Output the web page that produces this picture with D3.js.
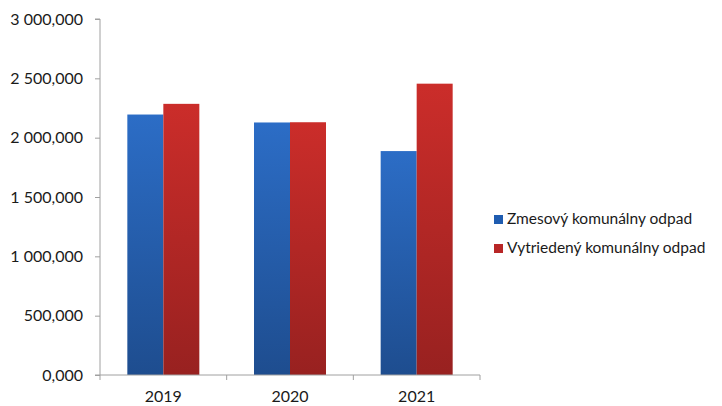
<!DOCTYPE html>
<html><head><meta charset="utf-8">
<script src="https://cdn.jsdelivr.net/npm/d3@7"></script>
<style>body{margin:0;background:#fff}svg{display:block}text{font-family:Lato,"Open Sans",sans-serif;fill:#1a1a1a}</style>
</head><body>
<svg id="c" width="722" height="406"></svg>
<script>
const categories = ["2019","2020","2021"];
const seriesNames = ["Zmesový komunálny odpad","Vytriedený komunálny odpad"];
const zmesovy = [2195, 2128, 1887];
const vytriedeny = [2285, 2130, 2455];
const yTicks = [0,500,1000,1500,2000,2500,3000];

const svg = d3.select("#c");
const mLeft = 100, mRight = 480, mTop = 19, mBottom = 375;
const x = d3.scaleBand().domain(categories).range([mLeft,mRight]).paddingInner(0).paddingOuter(0);
const y = d3.scaleLinear().domain([0,3000]).range([mBottom,mTop]);
const inner = d3.scaleBand().domain([0,1]).range([0, 72]);

const defs = svg.append("defs");
const grads = [["gb","#2c6dc6","#1e4d8f"],["gr","#cb2d2a","#982120"]];
grads.forEach(([id,c1,c2])=>{
  const g = defs.append("linearGradient").attr("id",id).attr("x1",0).attr("y1",0).attr("x2",0).attr("y2",1);
  g.append("stop").attr("offset","0%").attr("stop-color",c1);
  g.append("stop").attr("offset","100%").attr("stop-color",c2);
});

const loc = d3.formatLocale({decimal:",", thousands:" ", grouping:[3], currency:["",""]});
const fmt = loc.format(",.3f");

// y axis
const ya = svg.append("g").attr("transform",`translate(${mLeft},0)`)
  .call(d3.axisLeft(y).tickValues(yTicks).tickSize(5).tickFormat(fmt));
ya.select(".domain").attr("stroke","#a0a0a0").attr("d",`M-5,${mTop}H0V${mBottom}`);
ya.selectAll(".tick line").attr("stroke","#a0a0a0");
ya.selectAll(".tick text").attr("x",-17).attr("font-size",16).attr("font-family","Lato, sans-serif").attr("fill","#1a1a1a");

const series = [zmesovy, vytriedeny];
const fills = ["url(#gb)","url(#gr)"];
const bw = x.bandwidth();
series.forEach((vals,si)=>{
  svg.append("g").selectAll("rect").data(categories).join("rect")
    .attr("x", (d)=> x(d) + (bw-72)/2 + inner(si))
    .attr("y", (d,i)=> y(vals[i]))
    .attr("width", inner.bandwidth())
    .attr("height", (d,i)=> y(0)-y(vals[i]))
    .attr("fill", fills[si]);
});

// x axis
const xa = svg.append("g").attr("transform",`translate(0,${mBottom})`)
  .call(d3.axisBottom(x).tickSize(0).tickPadding(16));
xa.select(".domain").attr("stroke","#a0a0a0").attr("d",`M${mLeft-5},0H${mRight}`);
xa.selectAll(".tick text").attr("font-size",16).attr("font-family","Lato, sans-serif").attr("fill","#1a1a1a").attr("dy","0.71em");
const bounds = categories.map(c=>x(c)).concat([mRight]);
xa.selectAll("line.b").data(bounds).join("line").attr("class","b")
  .attr("x1",d=>d).attr("x2",d=>d).attr("y1",0).attr("y2",5).attr("stroke","#a0a0a0");

// legend
const lg = svg.append("g").attr("transform","translate(494,219)");
seriesNames.forEach((n,i)=>{
  const g = lg.append("g").attr("transform",`translate(0,${i*29})`);
  g.append("rect").attr("x",0).attr("y",-4).attr("width",9).attr("height",9).attr("fill", i===0?"#1f5cb0":"#b82626");
  g.append("text").attr("x",13).attr("y",0).attr("dy","0.35em").attr("font-size",15.5).text(n);
});
</script>
</body></html>
